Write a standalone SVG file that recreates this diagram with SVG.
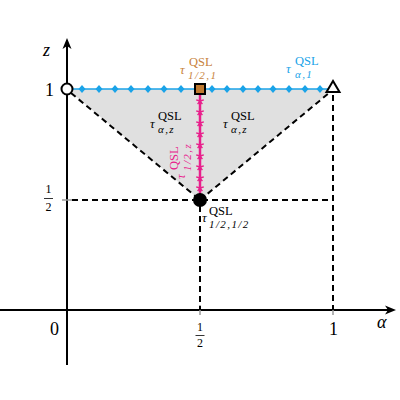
<svg xmlns="http://www.w3.org/2000/svg" width="400" height="400" viewBox="0 0 400 400">
<style>
.ax{stroke:#000;stroke-width:2;fill:none}
.dash{stroke:#000;stroke-width:2;stroke-dasharray:6 4;fill:none}
.tick{stroke:#999;stroke-width:1.5}
text{font-family:"Liberation Serif","Times New Roman","DejaVu Serif",serif}
.it{font-style:italic}
.lab{font-size:18px}
.fr{font-size:12px}
.tau{font-size:13px;font-style:italic}
.sup{font-size:12.5px}
.sub{font-size:11px;font-style:italic;letter-spacing:1.4px}
.blk{fill:#000}
.org{fill:#c8823c}
.blu{fill:#1aa3e8}
.mag{fill:#e8208c}
</style>
<defs>
<polygon id="dia" points="0,-4 3.5,0 0,4 -3.5,0" fill="#1aa3e8"/>
<path id="star" d="M0,0V-4M0,0L3.8,-1.2M0,0L2.4,3.2M0,0L-2.4,3.2M0,0L-3.8,-1.2" stroke="#e8208c" stroke-width="1.4" fill="none"/>
</defs>
<rect width="400" height="400" fill="#fff"/>
<polygon points="67,89 333,89 200,200" fill="#e0e0e0"/>
<g id="connectors">
<line class="ax" x1="0" y1="310" x2="390" y2="310"/>
<polygon points="396,310 385,305.5 388,310 385,314.5" fill="#000"/>
<line class="ax" x1="67" y1="365" x2="67" y2="46"/>
<polygon points="67,38 62.5,49 67,46 71.5,49" fill="#000"/>
<line class="tick" x1="200" y1="305" x2="200" y2="315"/>
<line class="tick" x1="333" y1="305" x2="333" y2="315"/>
<line class="tick" x1="62" y1="200" x2="72" y2="200"/>
<line class="dash" x1="71" y1="93" x2="200" y2="200"/>
<line class="dash" x1="200" y1="200" x2="329" y2="93"/>
<line class="dash" x1="72" y1="200" x2="333" y2="200"/>
<line class="dash" x1="200" y1="206" x2="200" y2="310"/>
<line class="dash" x1="333" y1="95" x2="333" y2="310"/>
<line x1="67" y1="89" x2="333" y2="89" stroke="#1aa3e8" stroke-width="1.5"/>
<line x1="200" y1="89" x2="200" y2="200" stroke="#e8208c" stroke-width="2.5"/>
</g>
<g id="blue-marks">
<use href="#dia" x="82" y="89"/><use href="#dia" x="99" y="89"/><use href="#dia" x="115" y="89"/>
<use href="#dia" x="131" y="89"/><use href="#dia" x="148" y="89"/><use href="#dia" x="164" y="89"/>
<use href="#dia" x="181" y="89"/><use href="#dia" x="212" y="89"/><use href="#dia" x="227" y="89"/>
<use href="#dia" x="243" y="89"/><use href="#dia" x="258" y="89"/><use href="#dia" x="273" y="89"/>
<use href="#dia" x="289" y="89"/><use href="#dia" x="305" y="89"/><use href="#dia" x="320" y="89"/>
</g>
<g id="magenta-marks">
<use href="#star" x="200" y="101"/><use href="#star" x="200" y="112"/><use href="#star" x="200" y="123"/>
<use href="#star" x="200" y="134"/><use href="#star" x="200" y="145"/><use href="#star" x="200" y="156"/>
<use href="#star" x="200" y="167"/><use href="#star" x="200" y="178"/><use href="#star" x="200" y="188"/>
</g>
<g id="node-open-circle"><circle cx="67" cy="89" r="5.5" fill="#fff" stroke="#000" stroke-width="2"/></g>
<g id="node-square"><rect x="195" y="84" width="10" height="10" fill="#c07a30" stroke="#000" stroke-width="2"/></g>
<g id="node-triangle"><polygon points="333,81 326.5,92 339.5,92" fill="#fff" stroke="#000" stroke-width="2"/></g>
<g id="node-dot"><circle cx="200" cy="200" r="7" fill="#000"/></g>
<g id="axis-labels">
<text class="it lab" x="43" y="56">z</text>
<text class="lab" x="45" y="96">1</text>
<text class="fr" x="48.5" y="193" text-anchor="middle">1</text>
<line x1="44" y1="198.5" x2="53" y2="198.5" stroke="#000" stroke-width="0.8"/>
<text class="fr" x="48.5" y="211" text-anchor="middle">2</text>
<text class="lab" x="50" y="335">0</text>
<text class="fr" x="200" y="331" text-anchor="middle">1</text>
<line x1="195.5" y1="335.5" x2="204.5" y2="335.5" stroke="#000" stroke-width="0.8"/>
<text class="fr" x="200" y="347" text-anchor="middle">2</text>
<text class="lab" x="329" y="335">1</text>
<text class="it lab" x="377" y="328">α</text>
</g>
<g id="label-half-one" class="org">
<text class="tau" x="180" y="74">τ</text>
<text class="sup" x="189" y="66">QSL</text>
<text class="sub" x="188" y="79">1/2,1</text>
</g>
<g id="label-alpha-one" class="blu">
<text class="tau" x="286" y="73">τ</text>
<text class="sup" x="295" y="65">QSL</text>
<text class="sub" x="295" y="78">α,1</text>
</g>
<g id="label-alpha-z-left" class="blk">
<text class="tau" x="150" y="128">τ</text>
<text class="sup" x="158" y="120">QSL</text>
<text class="sub" x="158" y="133">α,z</text>
</g>
<g id="label-alpha-z-right" class="blk">
<text class="tau" x="223" y="128">τ</text>
<text class="sup" x="231" y="120">QSL</text>
<text class="sub" x="231" y="133">α,z</text>
</g>
<g id="label-half-half" class="blk">
<text class="tau" x="202" y="222">τ</text>
<text class="sup" x="209" y="215">QSL</text>
<text class="sub" x="209" y="228">1/2,1/2</text>
</g>
<g id="label-half-z" class="mag" transform="translate(185,179) rotate(-90)">
<text class="tau" x="0" y="0">τ</text>
<text class="sup" x="9" y="-7">QSL</text>
<text class="sub" x="8" y="6">1/2,z</text>
</g>
</svg>
